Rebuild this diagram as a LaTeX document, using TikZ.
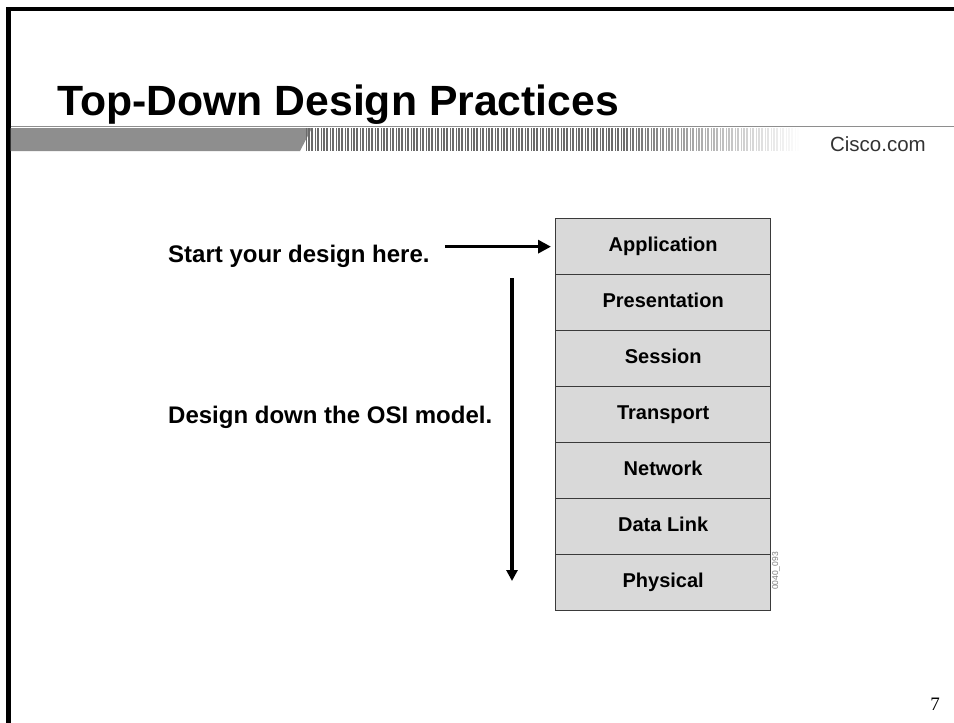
\documentclass[tikz,border=0pt]{standalone}
\usepackage{fontspec}
\setmainfont{Liberation Sans}
\newfontfamily\serifnum{Liberation Serif}
\usetikzlibrary{arrows.meta}
\definecolor{bargray}{HTML}{8E8E8E}
\definecolor{stripegray}{HTML}{6A6A6A}
\definecolor{layerfill}{HTML}{D9D9D9}
\definecolor{layerline}{HTML}{3A3A3A}
\tikzset{
  layer/.style={draw=layerline, line width=1.3pt, fill=layerfill, minimum width=215pt, minimum height=56pt, inner sep=0pt, text height=14.5pt, text depth=4pt, anchor=north west, font=\fontsize{20}{20}\selectfont\bfseries},
  bodytext/.style={inner sep=0pt, font=\fontsize{24}{24}\selectfont\bfseries},
  bigarrow/.style={line width=3.2pt, -{Triangle[length=13pt,width=13pt]}},
  downarrow/.style={line width=3.6pt, -{Triangle[length=11pt,width=11pt]}}
}
\begin{document}
\begin{tikzpicture}[x=1pt,y=-1pt]
\useasboundingbox (0,0) rectangle (954,723);
\fill[white] (0,0) rectangle (954,723);
% frame
\fill[black] (6,7) rectangle (954,10.5);
\fill[black] (6,7) rectangle (10.5,723);
% title band
\draw[bargray, line width=1pt] (10.5,126.5) -- (954,126.5);
\fill[bargray] (10.5,128) -- (312,128) -- (300,151) -- (10.5,151) -- cycle;
\foreach \i in {0,...,165} {
  \pgfmathsetmacro{\xx}{306+\i*3}
  \pgfmathsetmacro{\op}{min(1,max(0,(800-\xx)/180))}
  \pgfmathsetmacro{\lw}{0.6+1.0*mod(\i*7,5)/4}
  \draw[line width=\lw pt, draw=stripegray, opacity=\op] (\xx,128) -- (\xx,151);
}
\node[inner sep=0pt, anchor=base west, xscale=1.01, font=\fontsize{42.3}{42.3}\selectfont\bfseries] (title) at (57,115) {Top-Down Design Practices};
\node[inner sep=0pt, anchor=base east, text=black!80, font=\fontsize{20.5}{20.5}\selectfont] (cisco) at (926,151) {Cisco.com};
% OSI stack
\node[layer] (app) at (555,218) {Application};
\node[layer] (pres) at (555,274) {Presentation};
\node[layer] (sess) at (555,330) {Session};
\node[layer] (trans) at (555,386) {Transport};
\node[layer] (net) at (555,442) {Network};
\node[layer] (dl) at (555,498) {Data Link};
\node[layer] (phys) at (555,554) {Physical};
\node[inner sep=0pt, rotate=90, text=black!50, font=\fontsize{8.5}{8.5}\selectfont] (figid) at (776,571) {0040\_093};
% texts and arrows
\node[bodytext, anchor=base west] (start) at (168,262) {Start your design here.};
\node[bodytext, anchor=base west] (osi) at (168,423) {Design down the OSI model.};
\draw[bigarrow] ([xshift=15pt]start.east |- app.west) -- ([xshift=-4pt]app.west);
\coordinate (dtop) at (512,278);
\coordinate (dbot) at (512,581);
\draw[downarrow] (dtop) -- (dbot);
% page number
\node[inner sep=0pt, anchor=base, font=\serifnum\fontsize{19}{19}\selectfont] (pnum) at (935,710) {7};
\end{tikzpicture}
\end{document}
